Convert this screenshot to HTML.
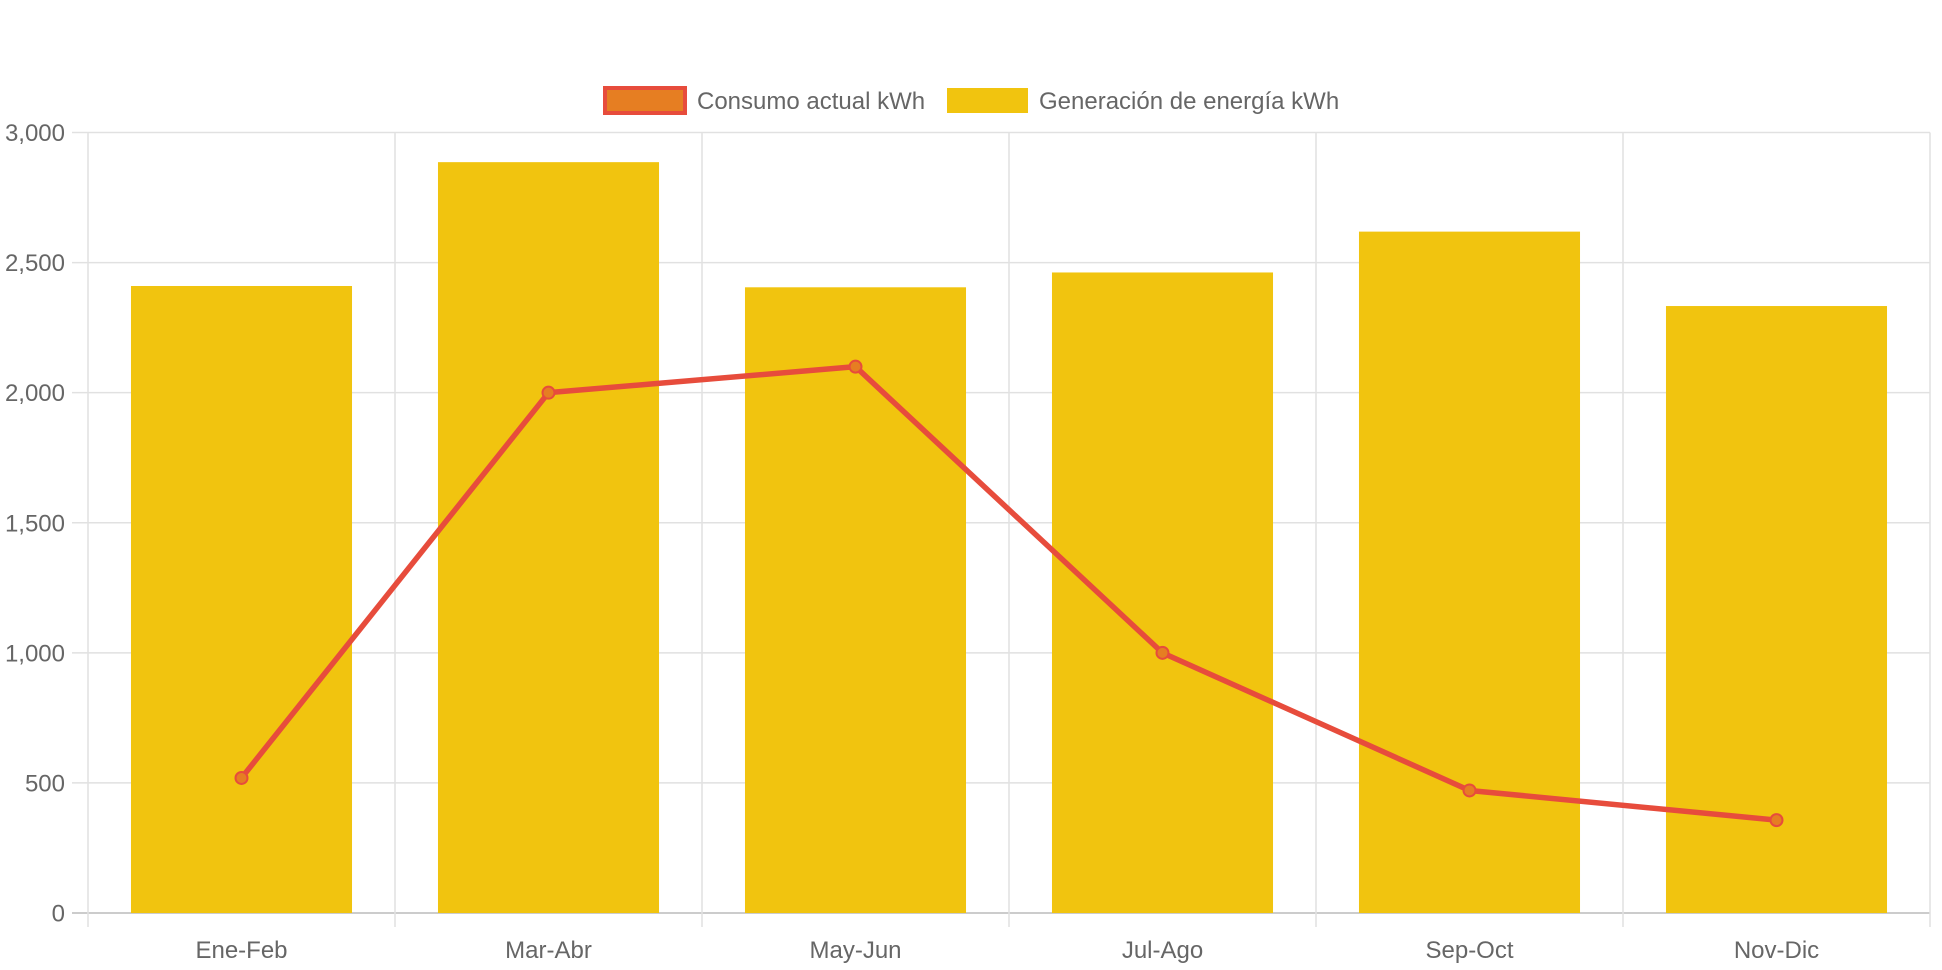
<!DOCTYPE html>
<html><head><meta charset="utf-8"><style>
html,body{margin:0;padding:0;background:#fff;}
svg{display:block;font-family:"Liberation Sans",sans-serif;}
</style></head><body>
<svg id="chart" width="1942" height="970">
<g id="legend">
 <g>
  <rect x="605" y="88" width="80" height="25" fill="#e67e22" stroke="#e74c3c" stroke-width="4"/>
  <text x="697" y="109" font-size="24" fill="#666">Consumo actual kWh</text>
 </g>
 <g>
  <rect x="947" y="88" width="81" height="25" fill="#f1c40f"/>
  <text x="1039" y="109" font-size="24" fill="#666">Generación de energía kWh</text>
 </g>
</g>
<g id="grid"></g>
<g id="bars"></g>
<g id="line"></g>
<g id="axes"></g>
</svg>
<script>
const categories = ["Ene-Feb","Mar-Abr","May-Jun","Jul-Ago","Sep-Oct","Nov-Dic"];
const generacion = [2410, 2886, 2405, 2462, 2619, 2333];
const consumo = [519, 2000, 2100, 1000, 471, 357];
const yTicks = [0, 500, 1000, 1500, 2000, 2500, 3000];
const yTickLabels = ["0","500","1,000","1,500","2,000","2,500","3,000"];

const NS="http://www.w3.org/2000/svg";
const L=88,R=1930,T=132.5,B=913,YMAX=3000;
const cw=(R-L)/categories.length;
const x=i=>L+cw*(i+0.5);
const y=v=>B-(v/YMAX)*(B-T);
function mk(tag,attrs,parent){const e=document.createElementNS(NS,tag);for(const k in attrs)e.setAttribute(k,attrs[k]);parent.appendChild(e);return e;}
const grid=document.getElementById('grid'),bars=document.getElementById('bars'),line=document.getElementById('line'),axes=document.getElementById('axes');
yTicks.forEach((t,i)=>{
 const g=mk('line',{x1:72,x2:R,y1:y(t),y2:y(t),stroke:i===0?'#ccc':'#e1e1e1','stroke-width':i===0?2:1.5},grid);
 
 
 const tx=mk('text',{x:65,y:y(t)+8.5,'text-anchor':'end','font-size':24,fill:'#666'},axes);
 tx.textContent=yTickLabels[i];
 
 
});
for(let i=0;i<=categories.length;i++){
 const g=mk('line',{x1:L+cw*i,x2:L+cw*i,y1:T,y2:927,stroke:'#e1e1e1','stroke-width':1.5},grid);
 
 
}
categories.forEach((c,i)=>{
 const bw=cw*0.72;
 const r=mk('rect',{x:x(i)-bw/2,y:y(generacion[i]),width:bw,height:B-y(generacion[i]),fill:'#f1c40f'},bars);
 
 
 const tx=mk('text',{x:x(i),y:958,'text-anchor':'middle','font-size':24,fill:'#666'},axes);
 tx.textContent=c;
 
 
});
const pl=mk('polyline',{points:consumo.map((v,i)=>x(i)+','+y(v)).join(' '),fill:'none',stroke:'#e74c3c','stroke-width':5.5,'stroke-linejoin':'round'},line);


consumo.forEach((v,i)=>{
 const c=mk('circle',{cx:x(i),cy:y(v),r:6,fill:'#e67e22',stroke:'#e74c3c','stroke-width':2},line);
 
 
});
</script>
</body></html>
